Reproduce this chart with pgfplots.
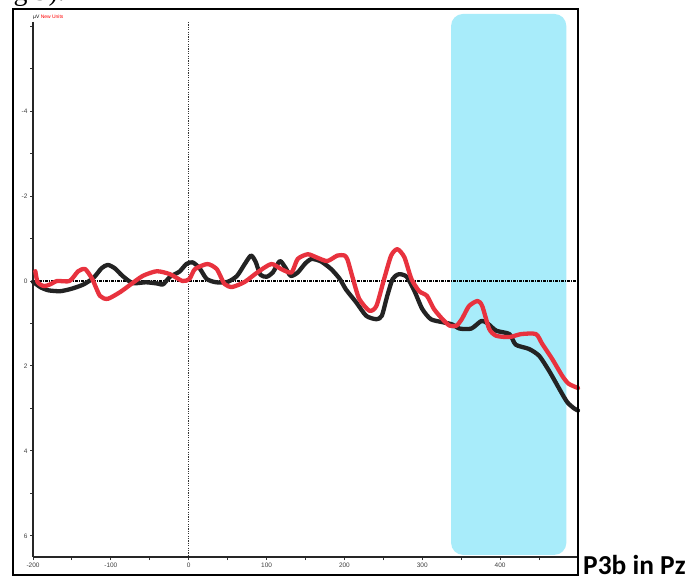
\documentclass[border=0pt]{standalone}
\usepackage{pgfplots}
\pgfplotsset{compat=1.18}
\usepackage{fontspec}
\newfontfamily\arial{Liberation Sans}
\newfontfamily\timesf{Liberation Serif}
\newfontfamily\calib{Carlito}
\definecolor{pthreebcyan}{RGB}{168,236,250}
\definecolor{erpred}{RGB}{232,50,62}
\definecolor{erpblack}{RGB}{35,35,35}
\begin{document}
\begin{tikzpicture}[x=1bp,y=1bp]
\useasboundingbox (0,0) rectangle (698,583);
\fill[white] (0,0) rectangle (698,583);
\begin{axis}[
  at={(33bp,26bp)}, anchor=south west,
  scale only axis, width=545bp, height=535bp,
  xmin=-200, xmax=500, ymin=-6.1, ymax=6.5,
  y dir=reverse,
  clip=false,
  axis x line=bottom, axis y line=left,
  axis line style={-, line width=1.4bp, black!85},
  xtick={-200,-100,0,100,200,300,400},
  minor xtick={-150,-50,50,150,250,350,450},
  ytick={-4,-2,0,2,4,6},
  minor ytick={-6,-5,-3,-1,1,3,5},
  tick align=outside,
  major tick length=3bp, minor tick length=3bp,
  tick style={line width=0.9bp, black!80},
  /pgf/number format/assume math mode=true,
  tick label style={font=\fontsize{6.5}{6.5}\selectfont\arial, text=black!75},
  xticklabel style={yshift=1bp},
  yticklabel style={xshift=1bp},
]
\fill[pthreebcyan, rounded corners=12bp] (axis cs:337,-6.29) rectangle (axis cs:485,6.45);
\draw[black, line width=1.8bp, dash pattern=on 3bp off 1bp on 1bp off 1bp] (axis cs:-200,0) -- (axis cs:500,0);
\draw[black!80, line width=1.1bp, dash pattern=on 1.2bp off 1.2bp] (axis cs:0,-6.1) -- (axis cs:0,6.5);
\addplot[erpblack, line width=4.3bp, smooth, tension=0.4, line join=round, line cap=round] coordinates {
(-200,0.02) (-190,0.15) (-180,0.22) (-165,0.24) (-150,0.18) (-135,0.08) (-122,-0.08) (-112,-0.3) (-104,-0.38) (-95,-0.3) (-85,-0.12) (-72,0.05) (-55,0.03) (-40,0.06) (-33,0.08) (-24,-0.1) (-12,-0.22) (-3,-0.4) (5,-0.44) (14,-0.3) (23,-0.05) (35,0.03) (50,0.02) (62,-0.12) (72,-0.4) (80,-0.6) (86,-0.45) (92,-0.15) (100,-0.1) (108,-0.2) (117,-0.47) (124,-0.32) (131,-0.12) (140,-0.2) (150,-0.42) (158,-0.52) (170,-0.46) (183,-0.28) (194,-0.05) (202,0.2) (215,0.5) (228,0.82) (241,0.9) (248,0.82) (255,0.35) (262,-0.05) (270,-0.16) (280,-0.1) (290,0.24) (300,0.66) (311,0.9) (326,0.97) (338,1.02) (348,1.12) (363,1.12) (376,0.94) (384,1.0) (395,1.17) (412,1.25) (420,1.5) (437,1.6) (450,1.76) (463,2.12) (476,2.54) (486,2.85) (495,3.0) (500,3.05)
};
\addplot[erpred, line width=4.3bp, smooth, tension=0.4, line join=round, line cap=round] coordinates {
(-197,-0.23) (-194,0.03) (-186,0.12) (-178,0.08) (-169,0.0) (-153,0.0) (-142,-0.23) (-133,-0.28) (-124,-0.05) (-114,0.35) (-104,0.42) (-88,0.26) (-76,0.1) (-59,-0.12) (-41,-0.23) (-24,-0.16) (-8,0.0) (1,-0.05) (8,-0.28) (24,-0.4) (36,-0.28) (46,0.07) (56,0.14) (72,0.02) (88,-0.2) (106,-0.4) (119,-0.28) (132,-0.2) (140,-0.52) (153,-0.63) (165,-0.55) (178,-0.47) (191,-0.6) (200,-0.6) (204,-0.5) (211,-0.05) (219,0.42) (232,0.7) (241,0.59) (251,-0.05) (260,-0.6) (268,-0.75) (277,-0.56) (286,-0.05) (296,0.24) (306,0.35) (315,0.66) (326,0.9) (335,1.05) (344,1.05) (351,0.89) (360,0.59) (371,0.47) (377,0.59) (386,1.13) (395,1.29) (412,1.32) (427,1.25) (446,1.25) (454,1.48) (467,1.84) (480,2.24) (488,2.42) (500,2.52)
};
\end{axis}
\draw[line width=1.5bp, black] (13,8) rectangle (578,574);
\node[anchor=west, inner sep=0pt, font=\fontsize{5}{5}\selectfont\arial] at (33,566) {µV \textcolor{red}{New Units}};
\node[anchor=base east, inner sep=0pt, font=\fontsize{28}{28}\selectfont\timesf] at (65,582) {Fig 9).};
\node[anchor=west, inner sep=0pt, font=\fontsize{27.5}{27.5}\selectfont\calib\bfseries] at (583,18) {P3b in Pz};
\end{tikzpicture}
\end{document}
